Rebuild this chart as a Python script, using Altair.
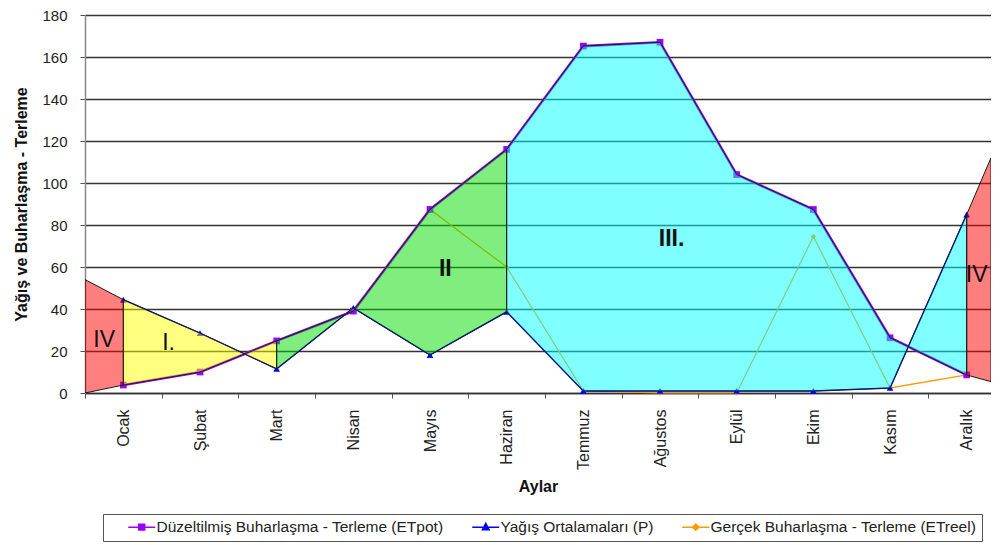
import json
import altair as alt
import pandas as pd

# ---------------- data ----------------
months = ["Ocak", "Şubat", "Mart", "Nisan", "Mayıs", "Haziran",
          "Temmuz", "Ağustos", "Eylül", "Ekim", "Kasım", "Aralık"]
etpot = [3.8, 10.0, 24.8, 39.0, 87.4, 116.0, 165.2, 167.0, 104.0, 87.4, 26.3, 8.6]
precip = [44.4, 28.5, 11.5, 40.5, 18.1, 38.7, 1.0, 1.0, 1.0, 1.0, 2.4, 85.0]
etreel = [3.8, 10.0, 24.8, 39.0, 87.4, 60.0, 1.0, 0.0, 0.0, 74.5, 2.4, 8.6]

series_names = ["Düzeltilmiş Buharlaşma - Terleme (ETpot)",
                "Yağış Ortalamaları (P)",
                "Gerçek Buharlaşma - Terleme (ETreel)"]
series_colors = ["#9900FF", "#0000FF", "#FF9900"]

# values of the shaded zones where they meet the plot borders
left_edge_x, left_edge_top, left_edge_bottom = -0.5, 54.0, 0.0
right_edge_x, right_edge_top, right_edge_bottom = 11.317, 112.0, 5.4

zone_names = ["IV-a", "I", "II", "III", "IV-b"]
zone_colors = ["#FF0000", "#FFFF00", "#00DD00", "#00FFFF", "#FF0000"]

label_texts = ["IV", "I.", "II", "III.", "IV"]
label_x = [-0.25, 0.59, 4.2, 7.15, 11.13]
label_y = [25.1, 23.9, 59.2, 73.5, 56.1]
label_bold = [False, False, True, True, False]

# ---------------- tables ----------------
rows = []
for name, vals in zip(series_names, [etpot, precip, etreel]):
    for i, m in enumerate(months):
        rows.append({"x": i, "month": m, "series": name, "y": vals[i]})
series_df = pd.DataFrame(rows)

zrows = []
def add_zone(name, xs, tops, bottoms):
    for a, b, c in zip(xs, tops, bottoms):
        zrows.append({"zone": name, "x": a, "top": b, "bottom": c})

idx = list(range(len(months)))
add_zone("IV-a", [left_edge_x, 0], [left_edge_top, precip[0]], [left_edge_bottom, etpot[0]])
add_zone("I", idx[0:3], precip[0:3], etpot[0:3])
add_zone("II", idx[2:6], etpot[2:6], precip[2:6])
add_zone("III", idx[5:12], etpot[5:12], precip[5:12])
add_zone("IV-b", [11, right_edge_x], [precip[11], right_edge_top], [etpot[11], right_edge_bottom])
zone_df = pd.DataFrame(zrows)

label_df = pd.DataFrame({"x": label_x, "y": label_y, "text": label_texts, "bold": label_bold})

# ---------------- axes / scales ----------------
FONT = "Liberation Sans"
boundaries = [i - 0.5 for i in range(len(months) + 1)]
tick_vals = [v for v in sorted(boundaries + idx) if v <= right_edge_x]
x_scale = alt.Scale(domain=[left_edge_x, right_edge_x], nice=False, zero=False)
y_scale = alt.Scale(domain=[0, 180], nice=False, zero=True)

x_axis = alt.Axis(
    title="Aylar", values=tick_vals,
    labelExpr=json.dumps(months, ensure_ascii=False) + "[datum.value] || ''",
    labelAngle=270, labelAlign="right", labelBaseline="middle",
    labelFont=FONT, labelFontSize=16, labelColor="#222", labelPadding=11,
    labelOverlap=False, labelFlush=False,
    tickSize=5, tickColor="#555",
    tickOpacity={"condition": {"test": "datum.value % 1 != 0", "value": 1}, "value": 0},
    grid=False, domainColor="#333", domainWidth=1.5,
    titleFont=FONT, titleFontSize=16, titleFontWeight="bold", titleColor="#111",
    titlePadding=9,
)
y_axis = alt.Axis(
    title="Yağış ve Buharlaşma - Terleme", values=list(range(0, 181, 20)),
    grid=True, gridColor="#333333", gridWidth=1.3,
    domainColor="#888", domainWidth=1.5, tickColor="#555", tickSize=5,
    labelFont=FONT, labelFontSize=15, labelColor="#222", labelPadding=13,
    titleFont=FONT, titleFontSize=16, titleFontWeight="bold", titleColor="#111",
    titlePadding=12,
)

def X(field="x"):
    return alt.X(f"{field}:Q", scale=x_scale, axis=x_axis)

def Y(field="y"):
    return alt.Y(f"{field}:Q", scale=y_scale, axis=y_axis, stack=None)

base = alt.Chart(series_df)

line_widths = {series_names[0]: 2.6, series_names[1]: 1.5, series_names[2]: 1.2}
color_of = dict(zip(series_names, series_colors))
lines = []
for name in [series_names[2], series_names[1], series_names[0]]:
    lines.append(
        base.transform_filter(alt.datum.series == name)
        .mark_line(color=color_of[name], strokeWidth=line_widths[name])
        .encode(x=X(), y=Y())
    )

marker_shape = {series_names[0]: ("square", 45), series_names[1]: ("triangle-up", 45),
                series_names[2]: ("diamond", 28)}
markers = []
for name in [series_names[2], series_names[1], series_names[0]]:
    shp, sz = marker_shape[name]
    markers.append(
        base.transform_filter(alt.datum.series == name)
        .mark_point(filled=True, shape=shp, size=sz, color=color_of[name], opacity=1)
        .encode(x=X(), y=Y())
    )

zones = alt.Chart(zone_df).mark_area(
    fillOpacity=0.5, stroke="#1a1a1a", strokeWidth=1, strokeOpacity=1, clip=True
).encode(
    x=X(), y=Y("top"), y2=alt.Y2("bottom:Q"),
    fill=alt.Fill("zone:N", scale=alt.Scale(domain=zone_names, range=zone_colors), legend=None),
)

texts_regular = alt.Chart(label_df).transform_filter("!datum.bold").mark_text(
    font=FONT, fontSize=23, color="#111", align="center", baseline="middle", clip=True
).encode(x=X(), y=Y(), text="text:N")
texts_bold = alt.Chart(label_df).transform_filter("datum.bold").mark_text(
    font=FONT, fontSize=23, fontWeight="bold", color="#111", align="center", baseline="middle",
    clip=True
).encode(x=X(), y=Y(), text="text:N")

shape_paths = [
    "M-2,0H2M-0.44,-0.44H0.44V0.44H-0.44Z",
    "M-2,0H2M0,-0.56L0.5,0.4H-0.5Z",
    "M-2,0H2M0,-0.46L0.46,0L0,0.46L-0.46,0Z",
]
legend_def = alt.Legend(
    title="\u00a0", titleOrient="left", titleFontSize=1, titlePadding=26,
    orient="none", legendX=18, legendY=499, direction="horizontal",
    columns=3, labelFont=FONT, labelFontSize=15.5, labelColor="#222", labelLimit=600,
    labelExpr="datum.label + (datum.index == 2 ? '\u00a0\u00a0\u00a0\u2003' : '\u00a0\u00a0\u00a0')",
    labelOffset=7, columnPadding=25, padding=5, symbolSize=182, symbolStrokeWidth=1.5,
    symbolOpacity=1, strokeColor="#555", fillColor="white",
)
legend_layer = base.mark_point(filled=True, size=0, opacity=1, strokeWidth=1.5).encode(
    x=X(), y=Y(),
    color=alt.Color("series:N", scale=alt.Scale(domain=series_names, range=series_colors), legend=legend_def),
    stroke=alt.Stroke("series:N", scale=alt.Scale(domain=series_names, range=series_colors), legend=legend_def),
    shape=alt.Shape("series:N", scale=alt.Scale(domain=series_names, range=shape_paths), legend=legend_def),
)

chart = alt.layer(
    *lines, *markers, zones, texts_regular, texts_bold, legend_layer
).properties(
    width=906, height=378,
    padding={"left": 5, "top": 0, "right": 0, "bottom": 0},
    background="white",
).configure_view(strokeWidth=0)

chart.save("out.html", embed_options={"renderer": "svg", "actions": False})
